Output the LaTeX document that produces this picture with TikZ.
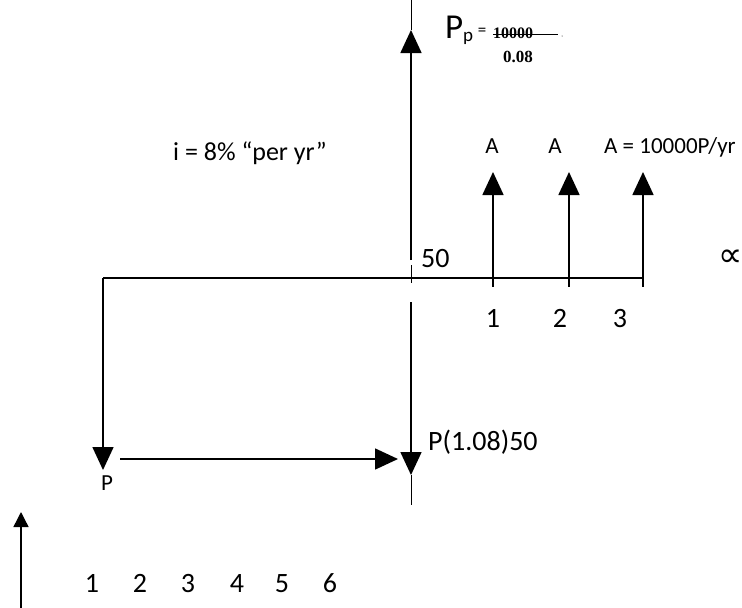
\documentclass[tikz,border=0pt]{standalone}
\usepackage{fontspec}
\setmainfont[Numbers=Lining]{Carlito}
\newfontfamily\timesf{Liberation Serif}
\newfontfamily\dejavuf{DejaVu Sans}
\usetikzlibrary{arrows.meta}
\tikzset{
  lbl/.style={inner sep=0pt, anchor=base, font=\fontsize{28}{30}\selectfont},
  albl/.style={inner sep=0pt, font=\fontsize{23}{26}\selectfont},
  flow/.style={line width=1.6pt, -{Triangle[width=21pt,length=23pt]}},
  axisline/.style={line width=1.2pt},
  thin/.style={line width=1pt},
}
\begin{document}
\begin{tikzpicture}[x=1pt,y=-1pt]
\useasboundingbox (0,0) rectangle (742,608);
% coordinates
\coordinate (top) at (411,0);
\coordinate (mtip) at (411,30);
\coordinate (mlow) at (411,260);
\coordinate (g1) at (411,265);
\coordinate (g2) at (411,283);
\coordinate (dstart) at (411,302);
\coordinate (dtip) at (411,475);
\coordinate (dend) at (411,505);
\coordinate (ax0) at (103,278);
\coordinate (ax1) at (493,278);
\coordinate (ax2) at (569,278);
\coordinate (ax3) at (643,278);
\coordinate (t1) at (493,287);
\coordinate (t2) at (569,287);
\coordinate (t3) at (643,287);
\coordinate (a1) at (493,172);
\coordinate (a2) at (569,172);
\coordinate (a3) at (643,172);
\coordinate (ltip) at (103,470);
\coordinate (hs) at (120,459);
\coordinate (htip) at (398,459);
\coordinate (bl0) at (21,608);
\coordinate (bltip) at (21,512);
% main vertical
\draw[thin] (top) -- (mtip);
\draw[flow] (mlow) -- (mtip);
\draw[thin] (g1) -- (g2);
\draw[flow] (dstart) -- (dtip);
\draw[thin] (dtip) -- (dend);
% axis
\draw[axisline] (ax0) -- (ax3);
\draw[axisline] (ax1) -- (t1);
\draw[axisline] (ax2) -- (t2);
\draw[axisline] (ax3) -- (t3);
\draw[flow] (ax1) -- (a1);
\draw[flow] (ax2) -- (a2);
\draw[flow] (ax3) -- (a3);
% left loop
\draw[flow] (ax0) -- (ltip);
\draw[flow] (hs) -- (htip);
% bottom-left arrow
\draw[line width=1.4pt, -{Triangle[width=15pt,length=15pt]}] (bl0) -- (bltip);
% labels
\node[inner sep=0pt, anchor=base west, font=\fontsize{26}{30}\selectfont] (rate) at (173,160) {i = 8\% “per yr”};
\node[albl, anchor=base] (A1) at (492,153) {A};
\node[albl, anchor=base] (A2) at (555,153) {A};
\node[albl, anchor=base west] (A3) at (604,153) {A = 10000P/yr};
\node[lbl, anchor=base west] (fifty) at (421,267) {50};
\node[lbl] (n1) at (493,327) {1};
\node[lbl] (n2) at (560,327) {2};
\node[lbl] (n3) at (620,327) {3};
\node[inner sep=0pt, font=\dejavuf\fontsize{34}{38}\selectfont] (inf) at (731,258) {∝};
\node[lbl, anchor=base west] (fv) at (428,450) {P(1.08)50};
\node[inner sep=0pt, font=\fontsize{23}{26}\selectfont] (pl) at (107,483) {P};
\foreach \i/\x in {1/92,2/140,3/188,4/237,5/282,6/330}{
  \node[lbl] (b\i) at (\x,592) {\i};
}
% Pp formula
\node[inner sep=0pt, anchor=base west, font=\fontsize{35}{38}\selectfont] (PP) at (445,38) {P};
\node[inner sep=0pt, anchor=base west, font=\fontsize{19}{21}\selectfont] (PPs) at (463,41) {p};
\node[inner sep=0pt, font=\fontsize{17}{19}\selectfont] (eq) at (482,32) {=};
\node[inner sep=0pt, anchor=base west, font=\timesf\bfseries\fontsize{16}{18}\selectfont] (num) at (493,38) {10000};
\node[inner sep=0pt, anchor=base west, font=\timesf\bfseries\fontsize{17}{19}\selectfont] (den) at (503,62) {0.08};
\coordinate (s0) at (493,34);
\coordinate (s1) at (558,34);
\draw[line width=0.9pt] (s0) -- (s1);
\fill (562,36) circle (0.5pt);
\end{tikzpicture}
\end{document}
